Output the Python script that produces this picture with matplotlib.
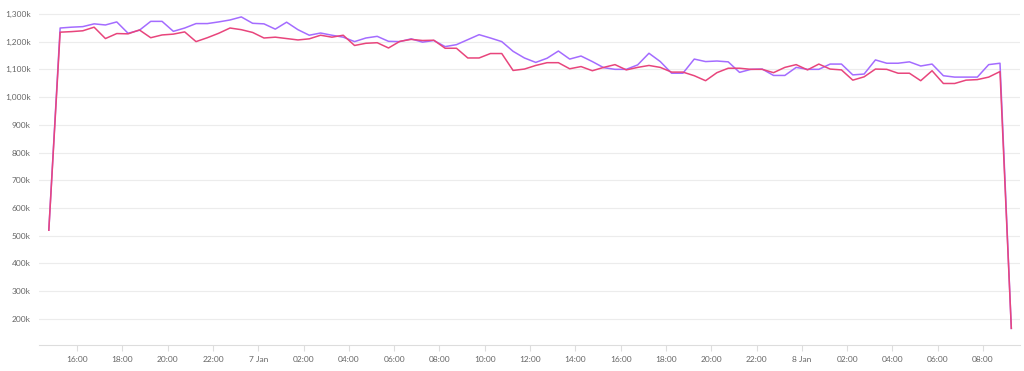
import matplotlib
matplotlib.use("Agg")
import matplotlib.pyplot as plt
import matplotlib.dates as mdates
import matplotlib.ticker as mticker
import pandas as pd

# 30-minute samples, 6 Jan 14:45 -> 8 Jan 09:15
times = pd.date_range("2020-01-06 14:45", periods=86, freq="30min")

# values in thousands
purple = [
    520, 1249, 1252, 1254, 1264, 1260, 1271, 1230, 1241, 1273,
    1273, 1237, 1249, 1265, 1265, 1271, 1278, 1289, 1266, 1264,
    1245, 1270, 1243, 1223, 1231, 1223, 1216, 1200, 1213, 1219,
    1201, 1200, 1210, 1198, 1204, 1182, 1189, 1207, 1225, 1213,
    1200, 1165, 1141, 1125, 1140, 1166, 1137, 1148, 1128, 1106,
    1100, 1100, 1116, 1158, 1128, 1086, 1086, 1137, 1128, 1130,
    1127, 1089, 1100, 1101, 1078, 1078, 1107, 1100, 1100, 1119,
    1119, 1080, 1083, 1134, 1122, 1122, 1127, 1112, 1119, 1077,
    1072, 1072, 1072, 1117, 1122, 166,
]
pink = [
    520, 1234, 1236, 1239, 1252, 1211, 1229, 1228, 1242, 1214,
    1224, 1227, 1235, 1200, 1214, 1230, 1249, 1243, 1233, 1213,
    1216, 1211, 1206, 1210, 1223, 1216, 1223, 1186, 1194, 1196,
    1177, 1201, 1208, 1204, 1205, 1176, 1176, 1141, 1141, 1157,
    1157, 1096, 1101, 1114, 1124, 1124, 1102, 1110, 1095, 1107,
    1117, 1098, 1107, 1114, 1107, 1090, 1090, 1077, 1059, 1088,
    1104, 1104, 1100, 1100, 1088, 1107, 1117, 1098, 1119, 1101,
    1098, 1061, 1073, 1101, 1100, 1086, 1086, 1059, 1095, 1049,
    1049, 1061, 1063, 1072, 1092, 166,
]

yticks = list(range(200, 1301, 100))
tick_times = pd.date_range("2020-01-06 16:00", "2020-01-08 08:00", freq="2h")

plt.rcParams["font.family"] = ["Lato", "DejaVu Sans"]

fig = plt.figure(figsize=(10.24, 3.71), dpi=100, facecolor="white")
ax = fig.add_axes([39 / 1024, 1 - 345 / 371, 981 / 1024, 340 / 371])

ax.plot(times, [v * 1000 for v in purple], color="#a46cff", linewidth=1.1, zorder=3)
ax.plot(times, [v * 1000 for v in pink], color="#e8457c", linewidth=1.1, zorder=4)

ax.set_xlim(pd.Timestamp("2020-01-06 14:19"), pd.Timestamp("2020-01-08 09:38"))
ax.set_ylim(106000, 1332000)

ax.set_yticks([v * 1000 for v in yticks])
ax.yaxis.set_major_formatter(mticker.FuncFormatter(lambda v, p: f"{v / 1000:,.0f}k"))
ax.set_xticks(tick_times)
ax.set_xticklabels([t.strftime("%-d Jan") if t.hour == 0 else t.strftime("%H:%M")
                    for t in tick_times])

ax.grid(axis="y", color="#ececec", linewidth=0.8)
ax.set_axisbelow(True)
for s in ["top", "right", "left"]:
    ax.spines[s].set_visible(False)
ax.spines["bottom"].set_color("#dddddd")
ax.spines["bottom"].set_linewidth(0.8)
ax.tick_params(axis="y", length=0, labelsize=6, labelcolor="#666666", pad=6)
ax.tick_params(axis="x", length=4, color="#dddddd", labelsize=6, labelcolor="#666666", pad=4)

fig.savefig("out.png", dpi=100, facecolor="white")
plt.close(fig)
